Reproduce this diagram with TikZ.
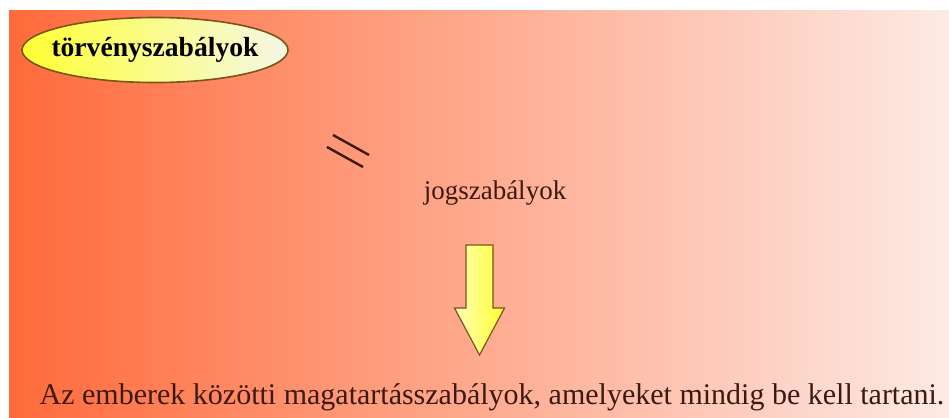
\documentclass[tikz,border=0pt]{standalone}
\usepackage{fontspec}
\setmainfont{Liberation Serif}
\usetikzlibrary{positioning,shapes.geometric}
\definecolor{Flame}{HTML}{FF6A3A}
\definecolor{Blush}{HTML}{FDEAE4}
\definecolor{Lemon}{HTML}{FFFF33}
\definecolor{Cream}{HTML}{F4F8E6}
\definecolor{Rim}{HTML}{7A5418}
\definecolor{Ink}{HTML}{3C1A12}

\begin{document}
\begin{tikzpicture}[x=0.5pt,y=-0.5pt,font=\fontsize{13.5}{16}\selectfont,every node/.style={align=center,text=Ink}]
  \useasboundingbox (0,0) rectangle (949,418);
  \shade[left color=Flame,right color=Blush] (9,10) rectangle (949,418);
  \node[draw=Rim,line width=0.8pt,ellipse,inner xsep=-5pt,inner ysep=0pt,minimum width=133pt,minimum height=32.5pt,left color=Lemon,right color=Cream,text=black,font=\fontsize{13.8}{16}\selectfont\bfseries] (tsz) at (155,50) {törvényszabályok};
  \draw[Ink,line width=1.2pt] (333,135) -- (369,155) (327,147) -- (363,167);
  \node (jsz) at (495,193) {jogszabályok};
  \coordinate (tail) at (479.5,245);
  \draw[draw=Rim,line width=0.6pt,left color=Lemon!35!white,right color=Lemon,shift={(tail)}] (-13.5,0) -- (13.5,0) -- (13.5,63) -- (25,63) -- (0,110) -- (-25,63) -- (-13.5,63) -- cycle;
  \node[font=\fontsize{15}{18}\selectfont] (mag) at (492,397) {Az emberek közötti magatartásszabályok, amelyeket mindig be kell tartani.};
\end{tikzpicture}
\end{document}
